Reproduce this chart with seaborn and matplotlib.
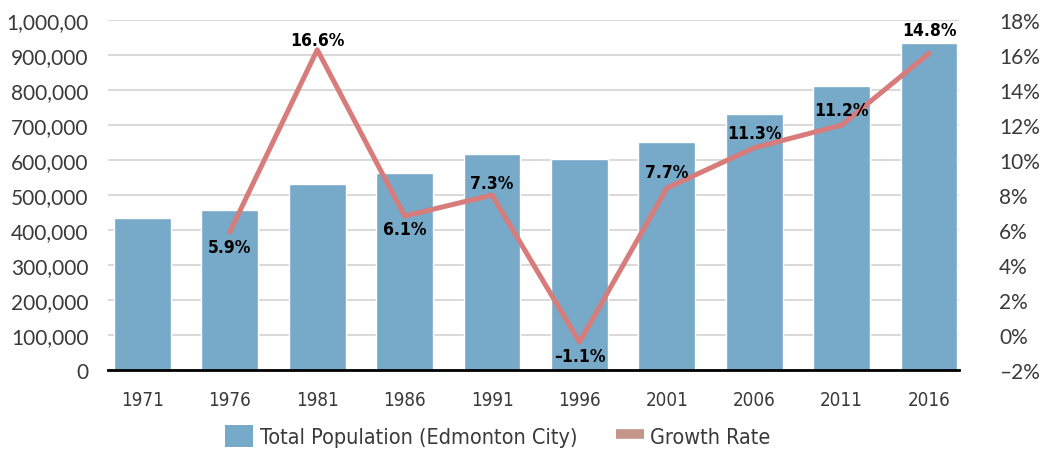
import numpy as np
import pandas as pd
import matplotlib
matplotlib.use("Agg")
import matplotlib.pyplot as plt
from matplotlib.patches import Patch
from matplotlib.lines import Line2D
import seaborn as sns

# data
years = ["1971", "1976", "1981", "1986", "1991", "1996", "2001", "2006", "2011", "2016"]
population = [434000, 457000, 531000, 563000, 617000, 603000, 651000, 731000, 811000, 935000]
growth = [np.nan, 5.9, 16.3, 6.8, 8.0, -0.4, 8.4, 10.7, 12.0, 16.1]
growth_labels = ["", "5.9%", "16.6%", "6.1%", "7.3%", "\u20131.1%", "7.7%", "11.3%", "11.2%", "14.8%"]
left_ticks = [0, 100000, 200000, 300000, 400000, 500000, 600000, 700000, 800000, 900000, 1000000]
left_labels = ["0", "100,000", "200,000", "300,000", "400,000", "500,000",
               "600,000", "700,000", "800,000", "900,000", "1,000,00"]
right_ticks = [-2, 0, 2, 4, 6, 8, 10, 12, 14, 16, 18]

# label offsets (pixels, + above / - below the point)
label_dy = [0, -15, 10, -13, 12, -14, 16, 15, 15, 23]

bar_color = "#77a9c9"
line_color = "#d77b7b"
legend_line_color = "#c4968a"
tick_color = "#3a3a3a"

sns.set_style("white")
plt.rcParams["font.family"] = ["DejaVu Sans"]
plt.rcParams["font.stretch"] = "condensed"

df = pd.DataFrame({"year": years, "pop": population, "growth": growth})
df["pos"] = np.arange(len(df))

fig = plt.figure(figsize=(10.42, 4.52), dpi=100)
ax = fig.add_axes([0.1036, 0.179, 0.8165, 0.7745])

sns.barplot(data=df, x="year", y="pop", color=bar_color, width=0.65,
            saturation=1, ax=ax, zorder=2)
ax.set_ylim(0, 1000000)
ax.set_xlim(-0.395, 9.34)
ax.set_yticks(left_ticks)
ax.set_yticklabels(left_labels, fontfamily="Lato", fontweight="normal", fontsize=15, color=tick_color)
ax.tick_params(axis="y", length=0, pad=14)
ax.tick_params(axis="x", length=0, pad=14, labelsize=13.5, labelcolor=tick_color)
ax.grid(axis="y", color="#d3d3d3", linewidth=1.2, zorder=0)
ax.set_axisbelow(True)
ax.set_xlabel("")
ax.set_ylabel("")
for s in ["top", "left", "right"]:
    ax.spines[s].set_visible(False)
ax.spines["bottom"].set_color("black")
ax.spines["bottom"].set_linewidth(2)
ax.spines["bottom"].set_zorder(5)

ax2 = ax.twinx()
sns.lineplot(data=df, x="pos", y="growth", color=line_color, linewidth=3.6,
             ax=ax2, zorder=3)
ax2.set_ylim(-2, 18)
ax2.set_xlim(-0.395, 9.34)
ax2.set_yticks(right_ticks)
ax2.set_yticklabels([f"{t}%".replace("-", "\u2013") for t in right_ticks],
                    fontfamily="Lato", fontweight="normal", fontsize=15, color=tick_color)
ax2.tick_params(axis="y", length=0, pad=29)
ax2.set_ylabel("")
for s in ax2.spines.values():
    s.set_visible(False)

for i, lab in enumerate(growth_labels):
    if lab == "":
        continue
    ax2.annotate(lab, (df["pos"][i], df["growth"][i]), xytext=(0, label_dy[i] * 0.72),
                 textcoords="offset points", ha="center", va="center",
                 fontsize=12.5, color="black", fontweight="bold")

handles = [Patch(facecolor=bar_color, edgecolor="none"),
           Line2D([0], [0], color=legend_line_color, linewidth=7, solid_capstyle="butt")]
fig.legend(handles, ["Total Population (Edmonton City)", "Growth Rate"],
           loc="center", bbox_to_anchor=(498 / 1042, 1 - 437 / 452), ncol=2,
           frameon=False, fontsize=15.5, handlelength=1.3, handleheight=1.2,
           handletextpad=0.3, columnspacing=1.8, labelcolor=tick_color)

fig.savefig("out.png", dpi=100)
